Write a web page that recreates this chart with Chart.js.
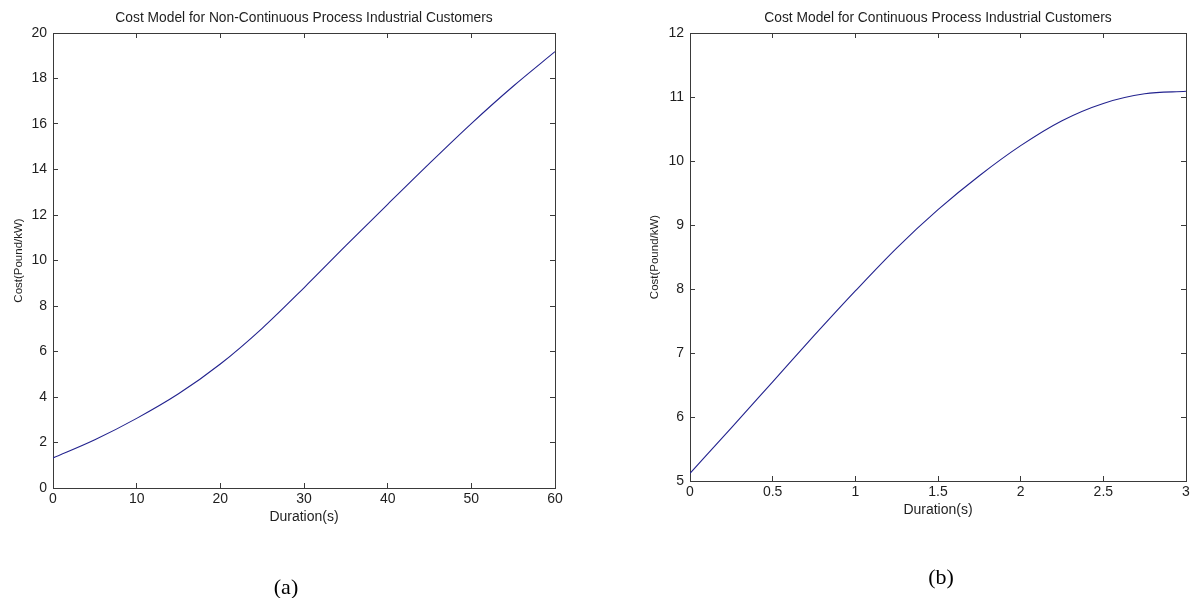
<!DOCTYPE html>
<html>
<head>
<meta charset="utf-8">
<script src="https://cdn.jsdelivr.net/npm/chart.js@4.4.1/dist/chart.umd.min.js"></script>
<style>
  html, body { margin: 0; padding: 0; background: #fff; overflow: hidden; }
  body { width: 1190px; height: 598px; position: relative; }
  .panel { position: absolute; top: 0; width: 600px; height: 598px; }
  #panelA { left: 0; }
  #panelB { left: 600px; }
  .caption {
    position: absolute;
    font-family: "Liberation Serif", "Times New Roman", serif;
    font-size: 22px;
    line-height: 24px;
    color: #000;
    transform: translate(-50%, -50%);
  }
</style>
</head>
<body>
<div class="panel" id="panelA"><canvas id="chartA" width="600" height="598"></canvas></div>
<div class="panel" id="panelB"><canvas id="chartB" width="600" height="598"></canvas></div>
<div class="caption" style="left:286px; top:587px;">(a)</div>
<div class="caption" style="left:941px; top:577px;">(b)</div>

<script>
// (a) non-continuous process customers
const durationA = [0, 5, 10, 15, 20, 25, 30, 35, 40, 45, 50, 55, 60]
const costA = [1.32, 2.12, 3.06, 4.14, 5.45, 7.02, 8.80, 10.65, 12.47, 14.27, 16.02, 17.66, 19.18]
const xTicksA = [0, 10, 20, 30, 40, 50, 60]
const yTicksA = [0, 2, 4, 6, 8, 10, 12, 14, 16, 18, 20]

// (b) continuous process customers
const durationB = [0, 0.25, 0.5, 0.75, 1, 1.25, 1.5, 1.75, 2, 2.25, 2.5, 2.75, 3]
const costB = [5.12, 5.83, 6.55, 7.27, 7.97, 8.64, 9.24, 9.77, 10.24, 10.63, 10.90, 11.05, 11.09]
const xTicksB = [0, 0.5, 1, 1.5, 2, 2.5, 3]
const yTicksB = [5, 6, 7, 8, 9, 10, 11, 12]

const FONT = '"Liberation Sans", Arial, Helvetica, sans-serif'
const AXIS_COLOR = "#3a3a3a"
const TEXT_COLOR = "#1e1e1e"

function setTicks(values) {
  return function (scale) {
    scale.ticks = values.map((v) => ({ value: v }))
  }
}

// plain numbers, no trailing ".0"
const plainLabel = (v) => String(v)

// box = plot area in canvas pixels, yTitleX = centre of the rotated y label
function makeChart(id, cfg) {
  const box = cfg.box
  const titlePadTop = 9.9
  const titleLine = 13.8 * 1.2
  const sideAxis = {
    border: { display: true, color: AXIS_COLOR, width: 1 },
    grid: { display: true, drawOnChartArea: false, drawTicks: true, tickLength: -5, color: AXIS_COLOR },
  }

  return new Chart(document.getElementById(id), {
    type: "line",
    data: {
      datasets: [
        {
          data: cfg.xs.map((x, i) => ({ x: x, y: cfg.ys[i] })),
          borderColor: "#22228e",
          borderWidth: 1.1,
          pointRadius: 0,
          fill: false,
          cubicInterpolationMode: "monotone",
          xAxisID: "x",
          yAxisID: "y",
        },
      ],
    },
    options: {
      responsive: false,
      animation: false,
      events: [],
      layout: {
        padding: { left: 0, top: 0, right: 600 - box.right - 10, bottom: 598 - box.bottom - 38 },
      },
      plugins: {
        legend: { display: false },
        tooltip: { enabled: false },
        title: {
          display: true,
          fullSize: false,
          text: cfg.title,
          color: TEXT_COLOR,
          font: { family: FONT, size: 13.8, weight: "normal", lineHeight: 1.2 },
          padding: { top: titlePadTop, bottom: box.top - titlePadTop - titleLine },
        },
      },
      scales: {
        x: {
          type: "linear",
          position: "bottom",
          min: cfg.xTicks[0],
          max: cfg.xTicks[cfg.xTicks.length - 1],
          afterBuildTicks: setTicks(cfg.xTicks),
          afterFit: (s) => { s.height = 38 },
          border: { display: true, color: AXIS_COLOR, width: 1 },
          grid: { display: true, drawOnChartArea: false, drawTicks: true, tickLength: -5, color: AXIS_COLOR },
          ticks: {
            color: TEXT_COLOR,
            padding: 8,
            maxRotation: 0,
            autoSkip: false,
            callback: plainLabel,
            font: { family: FONT, size: 14 },
          },
          title: {
            display: true,
            text: "Duration(s)",
            color: TEXT_COLOR,
            font: { family: FONT, size: 14, lineHeight: 1.2 },
            padding: 0,
          },
        },
        y: {
          type: "linear",
          position: "left",
          min: cfg.yTicks[0],
          max: cfg.yTicks[cfg.yTicks.length - 1],
          afterBuildTicks: setTicks(cfg.yTicks),
          afterFit: (s) => { s.width = box.left },
          border: { display: true, color: AXIS_COLOR, width: 1 },
          grid: { display: true, drawOnChartArea: false, drawTicks: true, tickLength: -5, color: AXIS_COLOR },
          ticks: { color: TEXT_COLOR, padding: 11, autoSkip: false, callback: plainLabel, font: { family: FONT, size: 14 } },
          title: {
            display: true,
            text: "Cost(Pound/kW)",
            color: TEXT_COLOR,
            font: { family: FONT, size: 11.5, lineHeight: 1.2 },
            padding: { top: cfg.yTitleX - 6.9, bottom: 0 },
          },
        },
        // top and right edges of the box, ticks only
        x2: Object.assign({}, sideAxis, {
          type: "linear",
          position: "top",
          min: cfg.xTicks[0],
          max: cfg.xTicks[cfg.xTicks.length - 1],
          afterBuildTicks: setTicks(cfg.xTicks),
          afterFit: (s) => { s.height = 0 },
          ticks: { display: false },
        }),
        y2: Object.assign({}, sideAxis, {
          type: "linear",
          position: "right",
          min: cfg.yTicks[0],
          max: cfg.yTicks[cfg.yTicks.length - 1],
          afterBuildTicks: setTicks(cfg.yTicks),
          afterFit: (s) => { s.width = 10 },
          ticks: { display: false },
        }),
      },
    },
  })
}

makeChart("chartA", {
  xs: durationA,
  ys: costA,
  xTicks: xTicksA,
  yTicks: yTicksA,
  title: "Cost Model for Non-Continuous Process Industrial Customers",
  box: { left: 53, top: 33, right: 555, bottom: 488 },
  yTitleX: 18.5,
})

makeChart("chartB", {
  xs: durationB,
  ys: costB,
  xTicks: xTicksB,
  yTicks: yTicksB,
  title: "Cost Model for Continuous Process Industrial Customers",
  box: { left: 90, top: 33, right: 586, bottom: 481 },
  yTitleX: 55,
})
</script>
</body>
</html>
